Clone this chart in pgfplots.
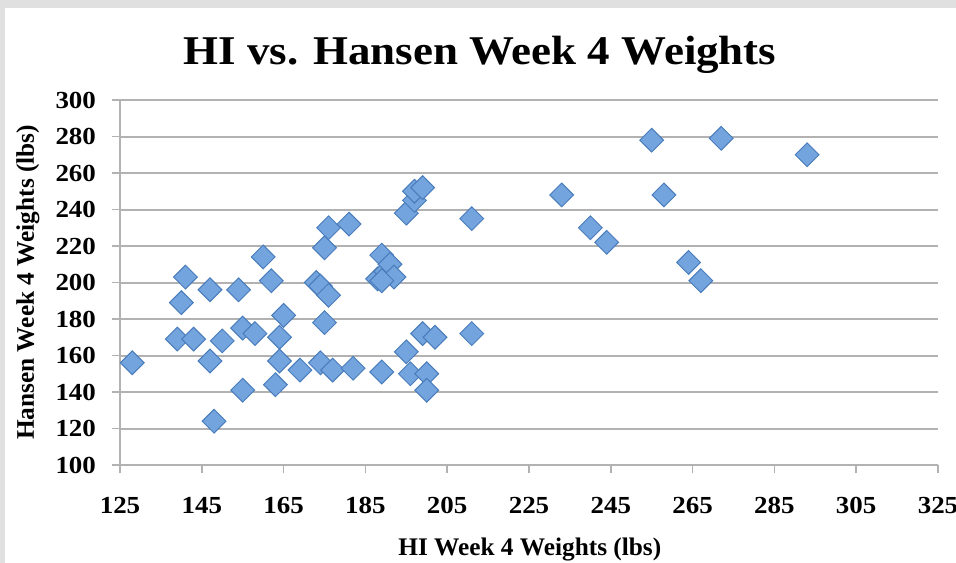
\documentclass[border=0pt]{standalone}
\usepackage{fontspec}
\setmainfont{Liberation Serif}
\newfontfamily\titlefont[FakeStretch=1.1]{Liberation Serif}
\newfontfamily\tickfont[FakeStretch=1.1]{Liberation Serif}
\usepackage{pgfplots}
\pgfplotsset{compat=1.18}
\definecolor{gridgray}{RGB}{178,178,178}
\definecolor{bgray}{RGB}{224,224,224}
\definecolor{mfill}{RGB}{116,164,222}
\definecolor{mdraw}{RGB}{72,124,186}
\begin{document}
\begin{tikzpicture}
\useasboundingbox (-60bp,-49bp) rectangle (418bp,232.5bp);
\fill[bgray] (-60bp,-49bp) rectangle (418bp,232.5bp);
\fill[white] (-57.5bp,-49bp) rectangle (418bp,228.5bp);
\begin{axis}[
  at={(0,0)}, anchor=south west,
  scale only axis, width=409bp, height=182.5bp,
  xmin=125, xmax=325, ymin=100, ymax=300,
  xtick={125,145,...,325}, ytick={100,120,...,300},
  axis x line=bottom, axis y line=left,
  axis line style={gridgray, line width=1bp, -},
  ymajorgrids, grid style={gridgray, line width=1bp},
  tick align=outside, major tick length=4bp,
  tick style={gridgray, line width=0.8bp},
  /pgf/number format/assume math mode=true,
  /pgf/number format/set thousands separator={},
  ticklabel style={font=\fontsize{12.3}{14}\selectfont\tickfont\bfseries},
  xticklabel style={yshift=-8.5bp},
  yticklabel style={xshift=-4.5bp},
  xlabel={HI Week 4 Weights (lbs)},
  ylabel={Hansen Week 4 Weights (lbs)},
  label style={font=\fontsize{12.7}{14}\selectfont\bfseries},
  xlabel style={at={(axis description cs:0.501,0)}, anchor=center, yshift=-42.5bp},
  ylabel style={at={(axis description cs:-0.1125,0.5)}, anchor=center, rotate=0},
  title={\titlefont\bfseries HI vs. Hansen Week 4 Weights},
  title style={font=\fontsize{20.5}{24}\selectfont, at={(axis description cs:0.44,1)}, anchor=center, yshift=16.5bp},
  clip=false,
]
\addplot[only marks, mark=square*, mark size=4.2bp,
  mark options={rotate=45, fill=mfill, draw=mdraw, line width=0.5bp}]
coordinates {
(128,156)(141,203)(140,189)(147,196)(154,196)(160,214)(162,201)(165,182)
(139,169)(143,169)(150,168)(155,175)(158,172)(164,170)(147,157)(164,157)
(155,141)(163,144)(148,124)(169,152)(173,200)(174,198)(175,219)(176,230)
(176,193)(175,178)(174,156)(177,152)(182,153)(181,232)(189,215)(188,202)
(190,206)(191,210)(192,203)(189,201)(189,151)(195,162)(196,150)(200,150)
(200,141)(199,172)(202,170)(195,238)(197,245)(197,250)(199,252)(211,235)
(211,172)(233,248)(240,230)(244,222)(255,278)(272,279)(258,248)(293,270)
(264,211)(267,201)
};
\end{axis}
\end{tikzpicture}
\end{document}
